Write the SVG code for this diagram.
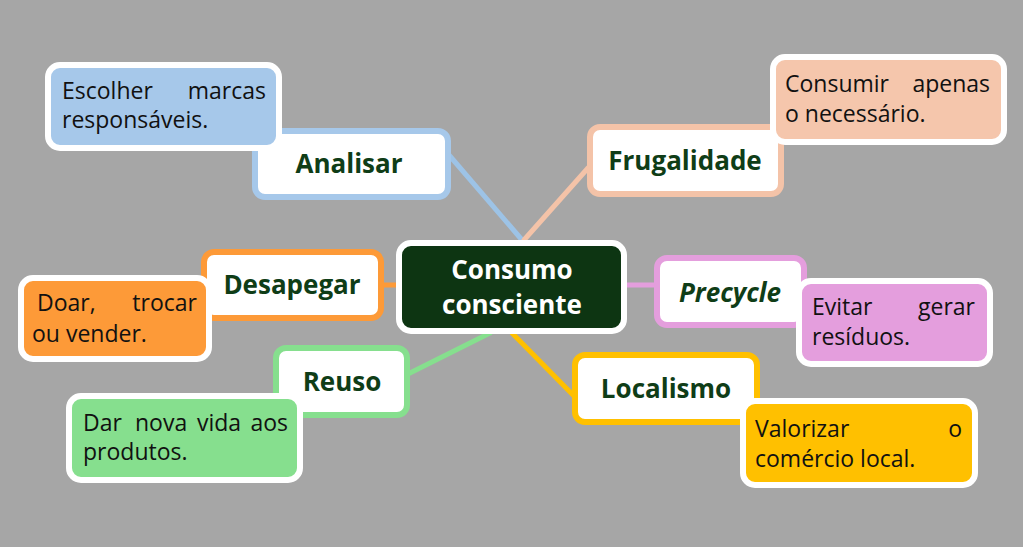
<svg xmlns="http://www.w3.org/2000/svg" width="1023" height="547" viewBox="0 0 1023 547">
<style>
.head{font-family:"Open Sans","Liberation Sans",sans-serif;font-weight:bold;font-size:26px;fill:#0f3d17;text-anchor:middle}
.body{font-family:"Open Sans","Liberation Sans",sans-serif;font-size:23px;fill:#111}
.end{text-anchor:end}
.cat{fill:#fff;stroke-width:6}
.tb{stroke:#fff;stroke-width:6}
.con{stroke-width:5;fill:none;stroke-linecap:round}
</style>
<rect width="1023" height="547" fill="#a6a6a6"/>
<g id="connectors">
<line class="con" x1="449" y1="155" x2="522" y2="240" stroke="#9dc3e6"/>
<line class="con" x1="588" y1="168" x2="524" y2="240" stroke="#f4c3a8"/>
<line class="con" x1="382" y1="285" x2="399" y2="285" stroke="#fd9a38"/>
<line class="con" x1="624" y1="285" x2="657" y2="285" stroke="#e49edd"/>
<line class="con" x1="490" y1="333" x2="408" y2="374" stroke="#86df8e"/>
<line class="con" x1="512" y1="333" x2="575" y2="397" stroke="#ffc000"/>
</g>
<g id="center">
<rect x="399" y="243" width="225" height="88" rx="12" fill="#0d3512" stroke="#fff" stroke-width="6"/>
<text class="head" x="512" y="279" style="fill:#fff">Consumo</text>
<text class="head" x="512" y="314" style="fill:#fff">consciente</text>
</g>
<g id="analisar">
<rect class="cat" x="255" y="131" width="193" height="66" rx="10" stroke="#a6c8ea"/>
<text class="head" x="349" y="173">Analisar</text>
</g>
<g id="analisar-text">
<rect class="tb" x="48" y="65" width="231" height="83" rx="12" fill="#a6c8ea"/>
<text class="body" x="62" y="99">Escolher</text>
<text class="body end" x="266" y="99">marcas</text>
<text class="body" x="62" y="128">responsáveis.</text>
</g>
<g id="frugalidade">
<rect class="cat" x="590" y="127" width="191" height="67" rx="10" stroke="#f4c3a8"/>
<text class="head" x="685" y="170">Frugalidade</text>
</g>
<g id="frugalidade-text">
<rect class="tb" x="773" y="57" width="231" height="85" rx="12" fill="#f5c6ac"/>
<text class="body" x="785" y="92">Consumir</text>
<text class="body end" x="990" y="92">apenas</text>
<text class="body" x="785" y="122">o necessário.</text>
</g>
<g id="desapegar">
<rect class="cat" x="204" y="252" width="177" height="66" rx="10" stroke="#fd9a38"/>
<text class="head" x="292" y="294">Desapegar</text>
</g>
<g id="desapegar-text">
<rect class="tb" x="21" y="278" width="188" height="81" rx="12" fill="#fd9a38"/>
<text class="body" x="37" y="311">Doar,</text>
<text class="body end" x="197" y="311">trocar</text>
<text class="body" x="32" y="342">ou vender.</text>
</g>
<g id="precycle">
<rect class="cat" x="657" y="258" width="147" height="67" rx="10" stroke="#e49edd"/>
<text class="head" x="730" y="302" font-style="italic">Precycle</text>
</g>
<g id="precycle-text">
<rect class="tb" x="799" y="281" width="191" height="83" rx="12" fill="#e49edd"/>
<text class="body" x="812" y="315">Evitar</text>
<text class="body end" x="975" y="315">gerar</text>
<text class="body" x="812" y="345">resíduos.</text>
</g>
<g id="reuso">
<rect class="cat" x="276" y="348" width="131" height="67" rx="10" stroke="#86df8e"/>
<text class="head" x="342" y="391">Reuso</text>
</g>
<g id="reuso-text">
<rect class="tb" x="69" y="396" width="231" height="84" rx="12" fill="#86df8e"/>
<text class="body" x="83" y="431">Dar</text>
<text class="body" x="135" y="431">nova</text>
<text class="body" x="197" y="431">vida</text>
<text class="body end" x="288" y="431">aos</text>
<text class="body" x="83" y="460">produtos.</text>
</g>
<g id="localismo">
<rect class="cat" x="575" y="355" width="182" height="67" rx="10" stroke="#ffc000"/>
<text class="head" x="666" y="398">Localismo</text>
</g>
<g id="localismo-text">
<rect class="tb" x="743" y="401" width="232" height="84" rx="12" fill="#ffc000"/>
<text class="body" x="755" y="437">Valorizar</text>
<text class="body end" x="962" y="437">o</text>
<text class="body" x="755" y="467">comércio local.</text>
</g>
</svg>
